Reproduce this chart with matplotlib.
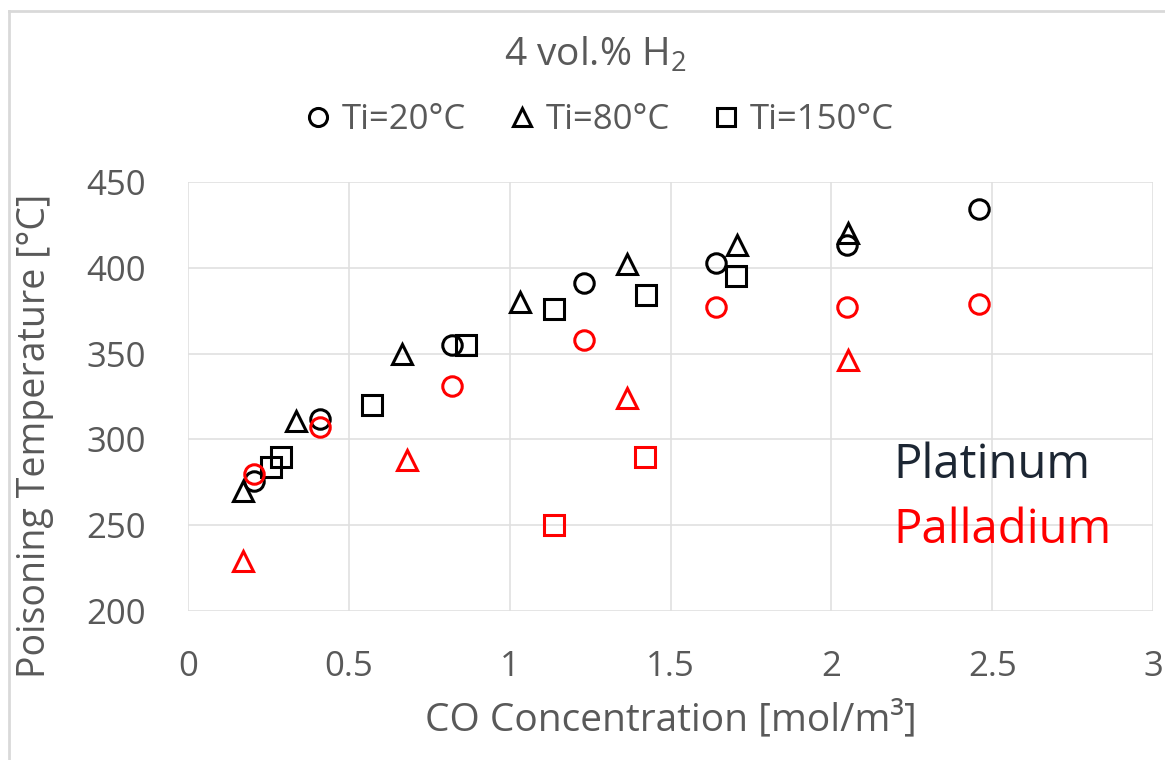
import numpy as np
import matplotlib
matplotlib.use("Agg")
import matplotlib.pyplot as plt
from matplotlib.lines import Line2D

plt.rcParams['font.family'] = ['Open Sans', 'DejaVu Sans']
plt.rcParams['mathtext.fontset'] = 'custom'
plt.rcParams['mathtext.rm'] = 'Open Sans'
plt.rcParams['mathtext.it'] = 'Open Sans'

GRAY = '#595959'
PT_COL = 'black'
PD_COL = '#ff0000'

# Platinum data
pt_x20 = [0.205, 0.41, 0.82, 1.23, 1.64, 2.05, 2.46]
pt_y20 = [276, 312, 355, 391, 403, 413, 434]
pt_x80 = [0.171, 0.335, 0.666, 1.033, 1.365, 1.708, 2.052]
pt_y80 = [270, 311, 350, 380, 402, 413, 420]
pt_x150 = [0.258, 0.289, 0.573, 0.864, 1.137, 1.425, 1.705]
pt_y150 = [284, 290, 320, 355, 376, 384, 395]

# Palladium data
pd_x20 = [0.205, 0.41, 0.82, 1.23, 1.64, 2.05, 2.46]
pd_y20 = [280, 307, 331, 358, 377, 377, 379]
pd_x80 = [0.171, 0.682, 1.365, 2.052]
pd_y80 = [229, 288, 324, 346]
pd_x150 = [1.137, 1.42]
pd_y150 = [250, 290]

legend_labels = ['Ti=20°C', 'Ti=80°C', 'Ti=150°C']

W, H = 1165, 760
fig = plt.figure(figsize=(W / 100, H / 100), dpi=100)
ax = fig.add_axes([188 / W, 1 - 611 / H, (1153 - 188) / W, (611 - 182) / H])

mk = dict(linestyle='none', markersize=14, markeredgewidth=2.2,
          markerfacecolor='none', clip_on=False)
ax.plot(pt_x20, pt_y20, 'o', color=PT_COL, **mk)
ax.plot(pt_x80, pt_y80, '^', color=PT_COL, **mk)
ax.plot(pt_x150, pt_y150, 's', color=PT_COL, **mk)
ax.plot(pd_x20, pd_y20, 'o', color=PD_COL, **mk)
ax.plot(pd_x80, pd_y80, '^', color=PD_COL, **mk)
ax.plot(pd_x150, pd_y150, 's', color=PD_COL, **mk)

ax.set_xlim(0, 3)
ax.set_ylim(200, 450)
ax.set_xticks(np.arange(0, 3.01, 0.5))
ax.set_xticklabels(['0', '0.5', '1', '1.5', '2', '2.5', '3'])
ax.set_yticks(np.arange(200, 451, 50))
ax.grid(True, color='#e0e0e0', linewidth=1.2)
ax.set_axisbelow(True)
for s in ax.spines.values():
    s.set_visible(False)
ax.tick_params(length=0, labelsize=25, colors=GRAY, labelcolor=GRAY)
ax.tick_params(axis='x', pad=28)
ax.tick_params(axis='y', pad=30)

fig.text(671 / W, 1 - 720 / H, 'CO Concentration [mol/m³]', fontsize=28,
         color=GRAY, ha='center', va='center')
fig.text(35 / W, 1 - 436 / H, 'Poisoning Temperature [°C]', fontsize=27,
         color=GRAY, ha='center', va='center', rotation=90)
fig.text(595 / W, 1 - 55 / H, r'4 vol.% H$_2$', fontsize=28,
         color=GRAY, ha='center', va='center')

ax.text(893 / W, 1 - 465 / H, 'Platinum', transform=fig.transFigure,
        fontsize=34, color='#1c2633', ha='left', va='center')
ax.text(893 / W, 1 - 530 / H, 'Palladium', transform=fig.transFigure,
        fontsize=34, color=PD_COL, ha='left', va='center')

handles = [Line2D([], [], marker=m, color='black', linestyle='none',
                  markersize=13, markeredgewidth=2.2, markerfacecolor='none')
           for m in ['o', '^', 's']]
leg = fig.legend(handles, legend_labels, loc='center', ncol=3,
                 bbox_to_anchor=(599 / W, 1 - 120 / H), frameon=False,
                 fontsize=25, handlelength=0.8, handletextpad=0.3,
                 columnspacing=1.2)
for t in leg.get_texts():
    t.set_color(GRAY)

# chart border (left and top edges visible)
fig.add_artist(Line2D([9 / W, 9 / W], [0, 1 - 11 / H], transform=fig.transFigure,
                      color='#d9d9d9', linewidth=2))
fig.add_artist(Line2D([9 / W, 1], [1 - 11 / H, 1 - 11 / H], transform=fig.transFigure,
                      color='#d9d9d9', linewidth=2))

fig.savefig('out.png', dpi=100)
